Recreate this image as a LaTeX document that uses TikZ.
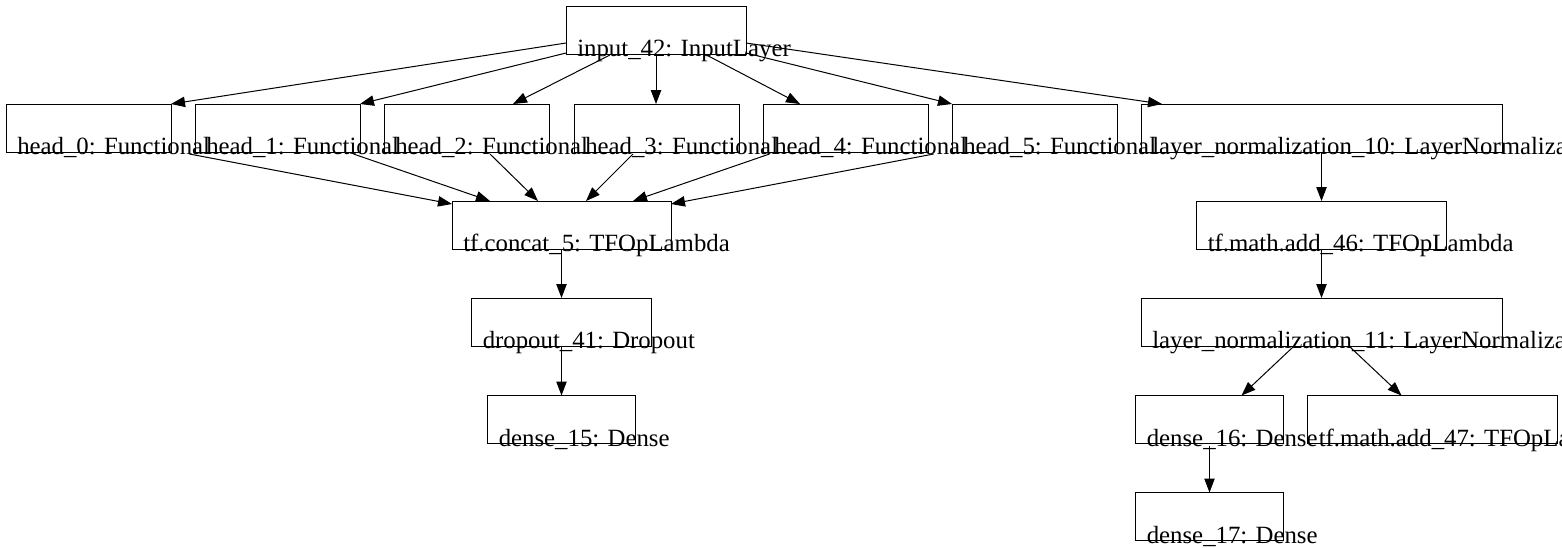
\documentclass[tikz,border=0pt]{standalone}
\usepackage{fontspec}
\setmainfont{Liberation Serif}
\usetikzlibrary{arrows.meta,calc}
\begin{document}
\begin{tikzpicture}[x=0.75pt,y=-0.75pt,
  nd/.style={draw, line width=0.75pt, inner sep=0pt, outer sep=0pt, anchor=north west,
             minimum width=#1*0.75pt, minimum height=36pt},
  lb/.style={label={[anchor=base west, inner sep=0pt, xshift=8.25pt, yshift=-2pt,
             font=\fontsize{18.6}{22}\selectfont]south west:{#1}}},
  ar/.style={-{Triangle[length=10.5pt,width=7.8pt]}, line width=0.75pt},
]
\useasboundingbox (0,0) rectangle (1562,547);
\clip (0,0) rectangle (1562,547);

\node[nd=180, lb={input\_42: InputLayer}] (in) at (566,6) {};
\node[nd=165, lb={head\_0: Functional}] (h0) at (6,104) {};
\node[nd=165, lb={head\_1: Functional}] (h1) at (195,104) {};
\node[nd=165, lb={head\_2: Functional}] (h2) at (384,104) {};
\node[nd=165, lb={head\_3: Functional}] (h3) at (574,104) {};
\node[nd=165, lb={head\_4: Functional}] (h4) at (763,104) {};
\node[nd=165, lb={head\_5: Functional}] (h5) at (952,104) {};
\node[nd=361, lb={layer\_normalization\_10: LayerNormaliza}] (ln10) at (1141,104) {};
\node[nd=219, lb={tf.concat\_5: TFOpLambda}] (cc) at (452,201) {};
\node[nd=250, lb={tf.math.add\_46: TFOpLambda}] (a46) at (1196.5,201) {};
\node[nd=180, lb={dropout\_41: Dropout}] (dr) at (471.5,298) {};
\node[nd=361, lb={layer\_normalization\_11: LayerNormaliza}] (ln11) at (1141,298) {};
\node[nd=148, lb={dense\_15: Dense}] (d15) at (487.5,395.5) {};
\node[nd=148, lb={dense\_16: Dense}] (d16) at (1135.5,395.5) {};
\node[nd=250, lb={tf.math.add\_47: TFOpLa}] (a47) at (1307.5,395.5) {};
\node[nd=148, lb={dense\_17: Dense}] (d17) at (1135.5,492.5) {};

% input -> heads
\draw[ar] ($(in.west)+(0,13)$) -- (h0.north east);
\draw[ar] ($(in.south west)+(0,-1)$) -- (h1.north east);
\draw[ar] ($(in.south west)+(44,1)$) -- ($(h2.north)+(46.5,0)$);
\draw[ar] (in.south) -- ($(h3.north)+(-0.5,0)$);
\draw[ar] ($(in.south)+(50.5,1)$) -- ($(h4.north)+(-45.5,0)$);
\draw[ar] ($(in.south east)+(0,-1)$) -- (h5.north west);
\draw[ar] ($(in.east)+(0,13)$) -- ($(ln10.north west)+(21,0)$);

% heads -> concat
\draw[ar] ($(h0.south)+(101,2)$) -- ($(cc.north west)+(0,3)$);
\draw[ar] ($(h1.south)+(76,2)$) -- ($(cc.north)+(-71.5,0)$);
\draw[ar] ($(h2.south)+(23.5,2)$) -- ($(cc.north)+(-23.5,0)$);
\draw[ar] ($(h3.south)+(-23.5,2)$) -- ($(cc.north)+(24.5,0)$);
\draw[ar] ($(h4.south)+(-76,2)$) -- ($(cc.north)+(71.5,0)$);
\draw[ar] ($(h5.south)+(-101,2)$) -- ($(cc.north east)+(0,3)$);

% chains
\draw[ar] (cc.south) -- (dr.north);
\draw[ar] (dr.south) -- (d15.north);
\draw[ar] (ln10.south) -- (a46.north);
\draw[ar] (a46.south) -- (ln11.north);
\draw[ar] ($(ln11.south)+(-28.5,1)$) -- ($(d16.north)+(32,0)$);
\draw[ar] ($(ln11.south)+(28.5,1)$) -- ($(a47.north)+(-31,0)$);
\draw[ar] ($(d16.south)+(0,2)$) -- (d17.north);
\end{tikzpicture}
\end{document}
